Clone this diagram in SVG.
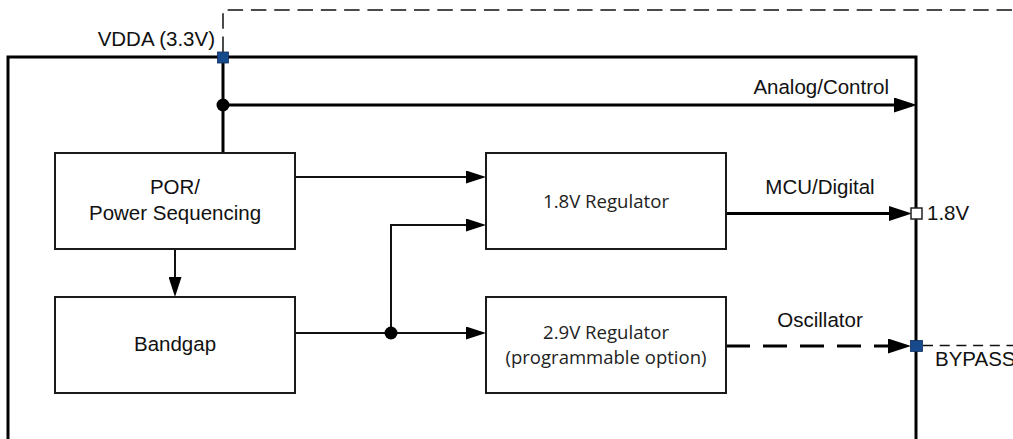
<svg xmlns="http://www.w3.org/2000/svg" width="1013" height="439" viewBox="0 0 1013 439">
  <style>
    .box { fill: #ffffff; stroke: #1a1a1a; stroke-width: 2; }
    .thin { fill: none; stroke: #111111; stroke-width: 2; }
    .thick { fill: none; stroke: #000000; stroke-width: 3; }
    .dash-thin { fill: none; stroke: #111111; stroke-width: 1.5; }
    .lbl { font-family: "Liberation Sans", Arial, sans-serif; font-size: 20.5px; fill: #111111; }
    .clb { font-family: "Open Sans", "Noto Sans", sans-serif; font-size: 18.5px; fill: #222222; }
    .pin-blue { fill: #174a8c; stroke: #0f2f5a; stroke-width: 0.8; }
    .pin-white { fill: #ffffff; stroke: #222222; stroke-width: 1.5; }
    .dot { fill: #000000; }
  </style>
  <defs>
    <marker id="ah-big" viewBox="0 0 23 15" refX="11" refY="7.5" markerWidth="23" markerHeight="15" markerUnits="userSpaceOnUse" orient="auto">
      <path d="M0,0 L23,7.5 L0,15 Z" fill="#000000"/>
    </marker>
    <marker id="ah-small" viewBox="0 0 20 13" refX="10" refY="6.5" markerWidth="20" markerHeight="13" markerUnits="userSpaceOnUse" orient="auto">
      <path d="M0,0 L20,6.5 L0,13 Z" fill="#000000"/>
    </marker>
  </defs>

  <g id="frame">
    <path class="thick" d="M8,439 V57 H916 V439"/>
  </g>

  <g id="connectors">
    <path class="dash-thin" d="M223,52 V10 H1013" stroke-dasharray="15.5 7.8"/>
    <path class="thick" d="M223,57 V153"/>
    <path class="thick" d="M223,105 H905" marker-end="url(#ah-big)"/>
    <path class="thick" d="M726,213.5 H900" marker-end="url(#ah-big)"/>
    <path class="thick" d="M726,346 H899" stroke-dasharray="24 13" marker-end="url(#ah-big)"/>
    <path class="dash-thin" d="M923,345.5 H1013" stroke-dasharray="10 6.7"/>
    <path class="thin" d="M175,249 V287" marker-end="url(#ah-small)"/>
    <path class="thin" d="M295,177 H476" marker-end="url(#ah-small)"/>
    <path class="thin" d="M295,333 H476" marker-end="url(#ah-small)"/>
    <path class="thin" d="M391,333 V225 H476" marker-end="url(#ah-small)"/>
    <circle class="dot" cx="223" cy="105" r="6.5"/>
    <circle class="dot" cx="391" cy="333" r="6.5"/>
  </g>

  <g id="pin-vdda">
    <rect class="pin-blue" x="217.5" y="52" width="11" height="11"/>
    <text class="lbl" x="215" y="46" text-anchor="end">VDDA (3.3V)</text>
  </g>

  <g id="pin-1v8">
    <rect class="pin-white" x="911" y="208" width="11" height="11"/>
    <text class="lbl" x="927" y="220">1.8V</text>
  </g>

  <g id="pin-bypass">
    <rect class="pin-blue" x="910.5" y="340.5" width="12" height="11"/>
    <text class="lbl" x="935" y="366">BYPASS</text>
  </g>

  <g id="label-analog">
    <text class="lbl" x="889" y="94" text-anchor="end">Analog/Control</text>
  </g>
  <g id="label-mcu">
    <text class="lbl" x="820" y="194" text-anchor="middle">MCU/Digital</text>
  </g>
  <g id="label-osc">
    <text class="lbl" x="820" y="327" text-anchor="middle">Oscillator</text>
  </g>

  <g id="node-por">
    <rect class="box" x="55" y="153" width="240" height="96"/>
    <text class="lbl" x="175" y="194" text-anchor="middle">POR/</text>
    <text class="lbl" x="175" y="220" text-anchor="middle">Power Sequencing</text>
  </g>

  <g id="node-bandgap">
    <rect class="box" x="55" y="297" width="240" height="96"/>
    <text class="lbl" x="175" y="351" text-anchor="middle">Bandgap</text>
  </g>

  <g id="node-reg18">
    <rect class="box" x="486" y="153" width="240" height="96"/>
    <text class="clb" x="606" y="208" text-anchor="middle" textLength="126" lengthAdjust="spacingAndGlyphs">1.8V Regulator</text>
  </g>

  <g id="node-reg29">
    <rect class="box" x="486" y="297" width="240" height="96"/>
    <text class="clb" x="606" y="339" text-anchor="middle" textLength="126" lengthAdjust="spacingAndGlyphs">2.9V Regulator</text>
    <text class="clb" x="606" y="364" text-anchor="middle" textLength="201" lengthAdjust="spacingAndGlyphs">(programmable option)</text>
  </g>
</svg>
